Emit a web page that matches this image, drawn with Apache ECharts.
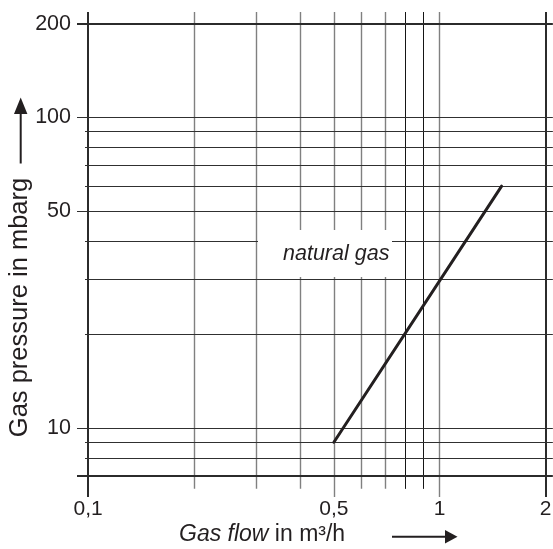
<!DOCTYPE html>
<html>
<head>
<meta charset="utf-8">
<script src="https://cdn.jsdelivr.net/npm/echarts@6/dist/echarts.min.js"></script>
<style>html,body{margin:0;padding:0;background:#fff;}#c{width:553px;height:549px;}</style>
</head>
<body>
<div id="c"></div>
<script>
// ---- data ----
const flowValues = [0.5, 1.5];          // m3/h
const pressureValues = [9, 60];         // mbarg
const seriesName = 'natural gas';

const xGridValues = [0.1, 0.2, 0.3, 0.4, 0.5, 0.6, 0.7, 0.8, 0.9, 1, 2];
const xLabelValues = [0.1, 0.5, 1, 2];
const xLabelTexts = ['0,1', '0,5', '1', '2'];

const yGridValues = [7, 8, 9, 10, 20, 30, 40, 50, 60, 70, 80, 90, 100, 200];
const yLabelValues = [10, 50, 100, 200];
const yLabelTexts = ['10', '50', '100', '200'];

const xTitleItalic = 'Gas flow';
const xTitleRest = ' in m³/h';
const yTitle = 'Gas pressure in mbarg';

// ---- layout / style ----
const FONT = '"Liberation Sans", Arial, Helvetica, sans-serif';
const TXT = '#231f20';
const X_MIN = 0.0929, X_MAX = 2.1;
const Y_MIN = 5.98, Y_MAX = 218.5;
const X_LEFT_MAJOR = 0.093, X_LEFT_MINOR = 0.098, X_RIGHT = 2.098;
const Y_BOTTOM_MAJOR = 6.0, Y_BOTTOM_MINOR = 6.37, Y_TOP = 218;

const xFrame = [xGridValues[0], xGridValues[xGridValues.length - 1]];
const yFrame = [yGridValues[0], yGridValues[yGridValues.length - 1]];

function vStyle(v) {
  if (xFrame.indexOf(v) >= 0) return { color: '#2b2b2b', width: 2, type: 'solid' };
  if (v === 0.8 || v === 0.9) return { color: '#151515', width: 1, type: 'solid' };
  return { color: '#808080', width: 1.4, type: 'solid' };
}
function hStyle(v) {
  if (yFrame.indexOf(v) >= 0) return { color: '#2b2b2b', width: 2, type: 'solid' };
  return { color: '#303030', width: 1.1, type: 'solid' };
}

const gridLines = [];
xGridValues.forEach(v => {
  const li = xLabelValues.indexOf(v);
  const major = li >= 0;
  const start = {
    coord: [v, major ? Y_BOTTOM_MAJOR : Y_BOTTOM_MINOR],
    lineStyle: vStyle(v),
    label: major ? {
      show: true, position: 'start', distance: 2,
      formatter: xLabelTexts[li], color: TXT, fontSize: 21, fontFamily: FONT
    } : { show: false }
  };
  gridLines.push([start, { coord: [v, Y_TOP] }]);
});
yGridValues.forEach(v => {
  const li = yLabelValues.indexOf(v);
  const major = li >= 0 || yFrame.indexOf(v) >= 0;
  const start = {
    coord: [major ? X_LEFT_MAJOR : X_LEFT_MINOR, v],
    lineStyle: hStyle(v),
    label: li >= 0 ? {
      show: true, position: 'start', distance: 6,
      formatter: yLabelTexts[li], color: TXT, fontSize: 21.5, fontFamily: FONT,
      padding: v === 10 ? [0, 0, 25, 0] : (v === 200 ? [3, 0, 0, 0] : 0)
    } : { show: false }
  };
  gridLines.push([start, { coord: [X_RIGHT, v] }]);
});

const chart = echarts.init(document.getElementById('c'), null, { renderer: 'canvas' });
chart.setOption({
  animation: false,
  backgroundColor: '#ffffff',
  grid: { left: 76.84, width: 476.6, top: 11.7, height: 485.7, containLabel: false },
  xAxis: {
    type: 'log', logBase: 10, min: X_MIN, max: X_MAX,
    axisLine: { show: false }, axisTick: { show: false },
    axisLabel: { show: false }, splitLine: { show: false }, minorSplitLine: { show: false }
  },
  yAxis: {
    type: 'log', logBase: 10, min: Y_MIN, max: Y_MAX,
    axisLine: { show: false }, axisTick: { show: false },
    axisLabel: { show: false }, splitLine: { show: false }, minorSplitLine: { show: false }
  },
  series: [
    {
      type: 'line', name: 'grid', data: [], z: 1, silent: true,
      markLine: {
        silent: true, z: 1, animation: false,
        symbol: ['none', 'none'],
        label: { show: false },
        emphasis: { disabled: true },
        data: gridLines
      }
    },
    {
      type: 'line', name: seriesName, z: 5,
      data: flowValues.map((f, i) => [f, pressureValues[i]]),
      showSymbol: false, symbol: 'none',
      lineStyle: { color: '#231f20', width: 3, cap: 'round' }
    }
  ],
  graphic: [
    { type: 'rect', z: 50, shape: { x: 258, y: 230, width: 134, height: 47 },
      style: { fill: '#ffffff' } },
    { type: 'text', z: 60, x: 283, y: 254,
      style: { text: seriesName, fill: TXT, font: 'italic 21.5px ' + FONT,
               align: 'left', verticalAlign: 'middle', textAlign: 'left', textVerticalAlign: 'middle' } },
    { type: 'text', z: 60, x: 179, y: 534.5,
      style: {
        text: '{i|' + xTitleItalic + '}{n|' + xTitleRest + '}',
        fill: TXT, align: 'left', verticalAlign: 'middle', textAlign: 'left', textVerticalAlign: 'middle',
        rich: {
          i: { fontStyle: 'italic', fontSize: 23, fontFamily: FONT, fill: TXT, color: TXT },
          n: { fontSize: 23, fontFamily: FONT, fill: TXT, color: TXT }
        }
      } },
    { type: 'text', z: 60, x: 19.5, y: 307.5, rotation: Math.PI / 2,
      style: { text: yTitle, fill: TXT, font: '25.5px ' + FONT,
               align: 'center', verticalAlign: 'middle', textAlign: 'center', textVerticalAlign: 'middle' } },
    { type: 'line', z: 60, shape: { x1: 20.7, y1: 163.5, x2: 20.7, y2: 112 },
      style: { stroke: TXT, lineWidth: 2 } },
    { type: 'polygon', z: 60, shape: { points: [[20.7, 97.5], [14, 114], [27.4, 114]] },
      style: { fill: TXT } },
    { type: 'line', z: 60, shape: { x1: 392, y1: 536.7, x2: 447, y2: 536.7 },
      style: { stroke: TXT, lineWidth: 2 } },
    { type: 'polygon', z: 60, shape: { points: [[457.5, 536.7], [445, 530], [445, 543.4]] },
      style: { fill: TXT } }
  ]
});
</script>
</body>
</html>
